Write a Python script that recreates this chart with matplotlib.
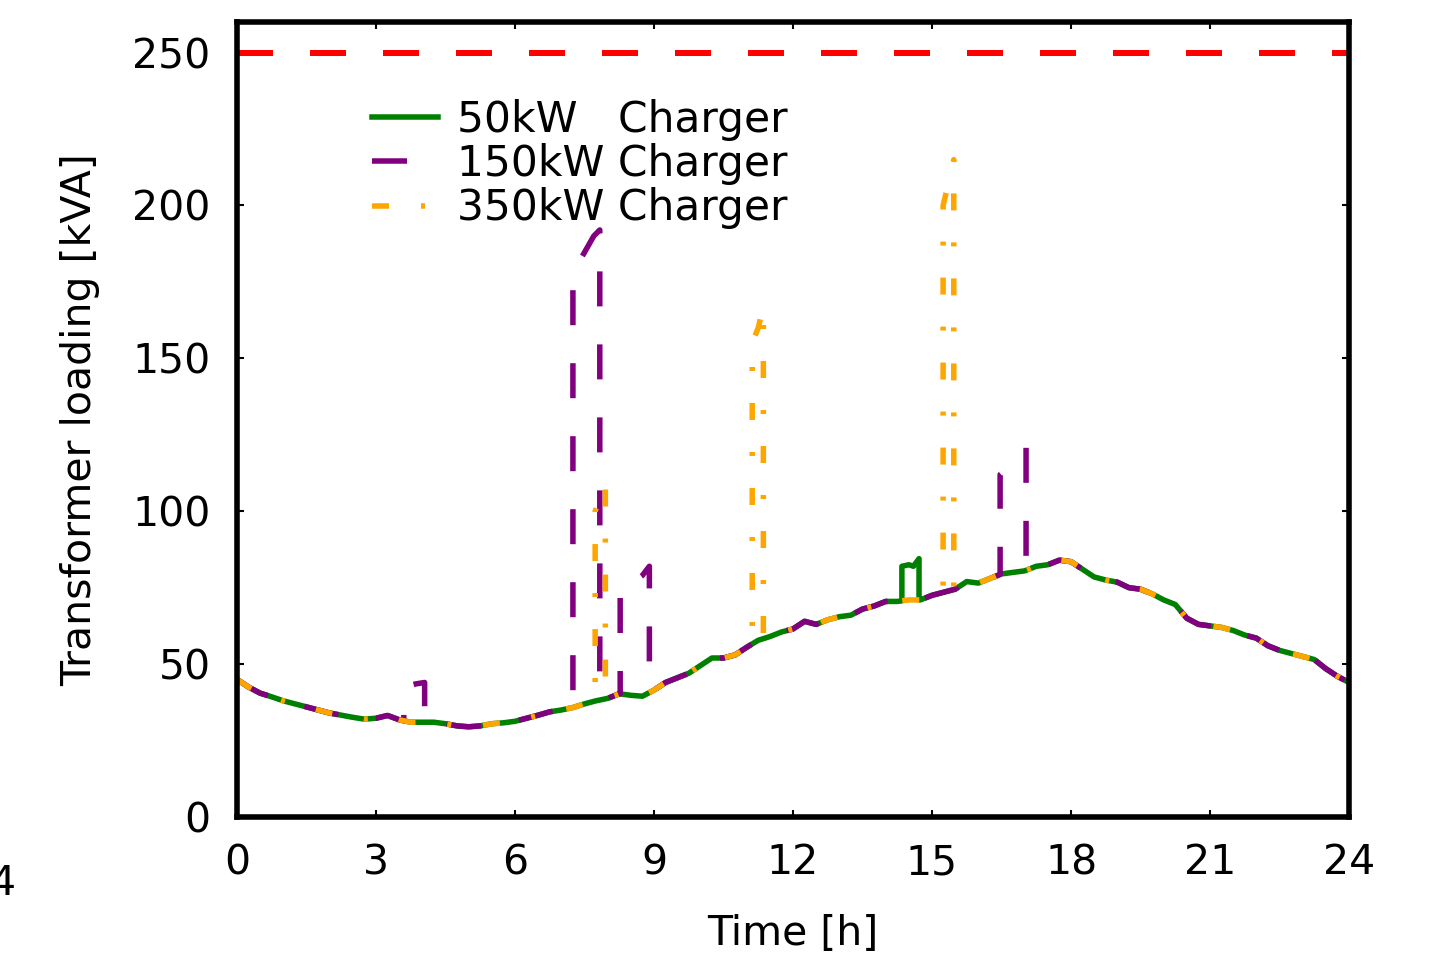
#!/usr/bin/env python3
"""
Transformer loading over one day for three charger sizes (50/150/350 kW).
"""
import numpy as np
import matplotlib
matplotlib.use("Agg")
import matplotlib.pyplot as plt

OUTPUT = "out.png"

# base load profile, 15 min steps [kVA]
base_t = np.arange(0, 24.01, 0.25)
base_load = [
    45.0, 42.5, 40.5, 39.3, 38.0, 37.0, 36.0, 35.0, 34.0, 33.3, 32.6, 32.0,
    32.3, 33.2, 31.8, 31.0, 31.0, 31.0, 30.5, 29.8, 29.5, 29.8, 30.5, 30.8,
    31.3, 32.3, 33.3, 34.4, 35.0, 35.8, 37.0, 38.0, 38.8, 40.3, 39.8, 39.5,
    41.5, 44.0, 45.5, 47.0, 49.5, 52.0, 52.0, 53.0, 55.5, 57.8, 59.0, 60.5,
    61.5, 64.0, 63.0, 64.5, 65.5, 66.0, 68.0, 69.0, 70.5, 70.5, 71.0, 71.0,
    72.5, 73.5, 74.5, 77.0, 76.5, 78.0, 79.5, 80.0, 80.5, 82.0, 82.5, 84.0,
    83.5, 81.0, 78.5, 77.5, 76.8, 75.0, 74.5, 73.0, 71.0, 69.5, 65.0, 63.0,
    62.5, 62.0, 61.0, 59.5, 58.5, 56.0, 54.5, 53.5, 52.5, 51.5, 48.5, 46.0,
    44.0,
]

# charging events: (times, total load during the event)
events_50 = [
    ([14.35, 14.5, 14.6, 14.72], [82.0, 82.5, 82.0, 84.5]),
]
events_150 = [
    ([3.6, 3.85, 4.05], [42.5, 43.5, 44.0]),
    ([7.25, 7.4, 7.55, 7.7, 7.83], [180.0, 182.0, 186.0, 190.0, 192.0]),
    ([8.27, 8.55, 8.75, 8.9], [76.5, 76.8, 79.0, 82.0]),
    ([16.47, 16.7, 16.85, 17.03], [112.0, 115.0, 118.0, 121.0]),
]
events_350 = [
    ([7.73, 7.85, 7.95], [100.0, 105.0, 109.0]),
    ([11.12, 11.25, 11.36], [155.0, 160.0, 167.0]),
    ([15.24, 15.35, 15.47], [200.0, 207.0, 215.0]),
]

labels = ["50kW   Charger", "150kW Charger", "350kW Charger"]
colors = ["green", "purple", "orange"]
limit = 250

PX = 0.72  # points per pixel at dpi 100


def with_events(events):
    t = np.asarray(base_t, dtype=float)
    y = np.asarray(base_load, dtype=float)
    for te, ye in events:
        t0, t1 = te[0], te[-1]
        b0, b1 = np.interp(t0, t, y), np.interp(t1, t, y)
        before, after = t < t0, t > t1
        t = np.concatenate([t[before], [t0], te, [t1], t[after]])
        y = np.concatenate([y[before], [b0], ye, [b1], y[after]])
    return t, y


def main():
    plt.rcParams["lines.scale_dashes"] = False
    plt.rcParams["font.family"] = "DejaVu Sans"

    fig = plt.figure(figsize=(14.29, 9.75), dpi=100)
    ax = fig.add_axes([237 / 1429, 1 - 817 / 975, 1112 / 1429, 795 / 975])

    ax.axhline(limit, color="red", lw=6 * PX, dashes=(36 * PX, 37 * PX))

    styles = [
        dict(ls="-"),
        dict(dashes=(35 * PX, 38 * PX)),
        dict(dashes=(17 * PX, 32 * PX, 4 * PX, 32 * PX)),
    ]
    for events, lab, col, st in zip([events_50, events_150, events_350],
                                    labels, colors, styles):
        t, y = with_events(events)
        ax.plot(t, y, color=col, lw=5.5 * PX, label=lab, **st)

    ax.set_xlim(0, 24)
    ax.set_ylim(0, 260)
    ax.set_xticks(range(0, 25, 3))
    ax.set_yticks(range(0, 251, 50))
    ax.tick_params(direction="in", length=5, width=1.5, labelsize=29.5,
                   top=True, right=True)
    ax.tick_params(axis="x", pad=19)
    ax.tick_params(axis="y", pad=19)
    for sp in ax.spines.values():
        sp.set_linewidth(4)

    ax.set_xlabel("Time [h]", fontsize=29.5)
    ax.set_ylabel("Transformer loading [kVA]", fontsize=29.5)
    ax.xaxis.set_label_coords(0.5, -0.122)
    ax.yaxis.set_label_coords(-0.123, 0.5)

    ax.legend(loc="upper left", bbox_to_anchor=(0.1214, 0.903),
              frameon=False, fontsize=30.5, handlelength=1.55,
              handletextpad=0.45, labelspacing=0.05, borderpad=0,
              borderaxespad=0)

    # stray tick label cut off at the left edge of the source image
    fig.text(-10 / 1429, 1 - 895 / 975, "4", fontsize=29.5,
             ha="left", va="baseline")

    fig.savefig(OUTPUT, dpi=100)
    plt.close(fig)


if __name__ == "__main__":
    main()
